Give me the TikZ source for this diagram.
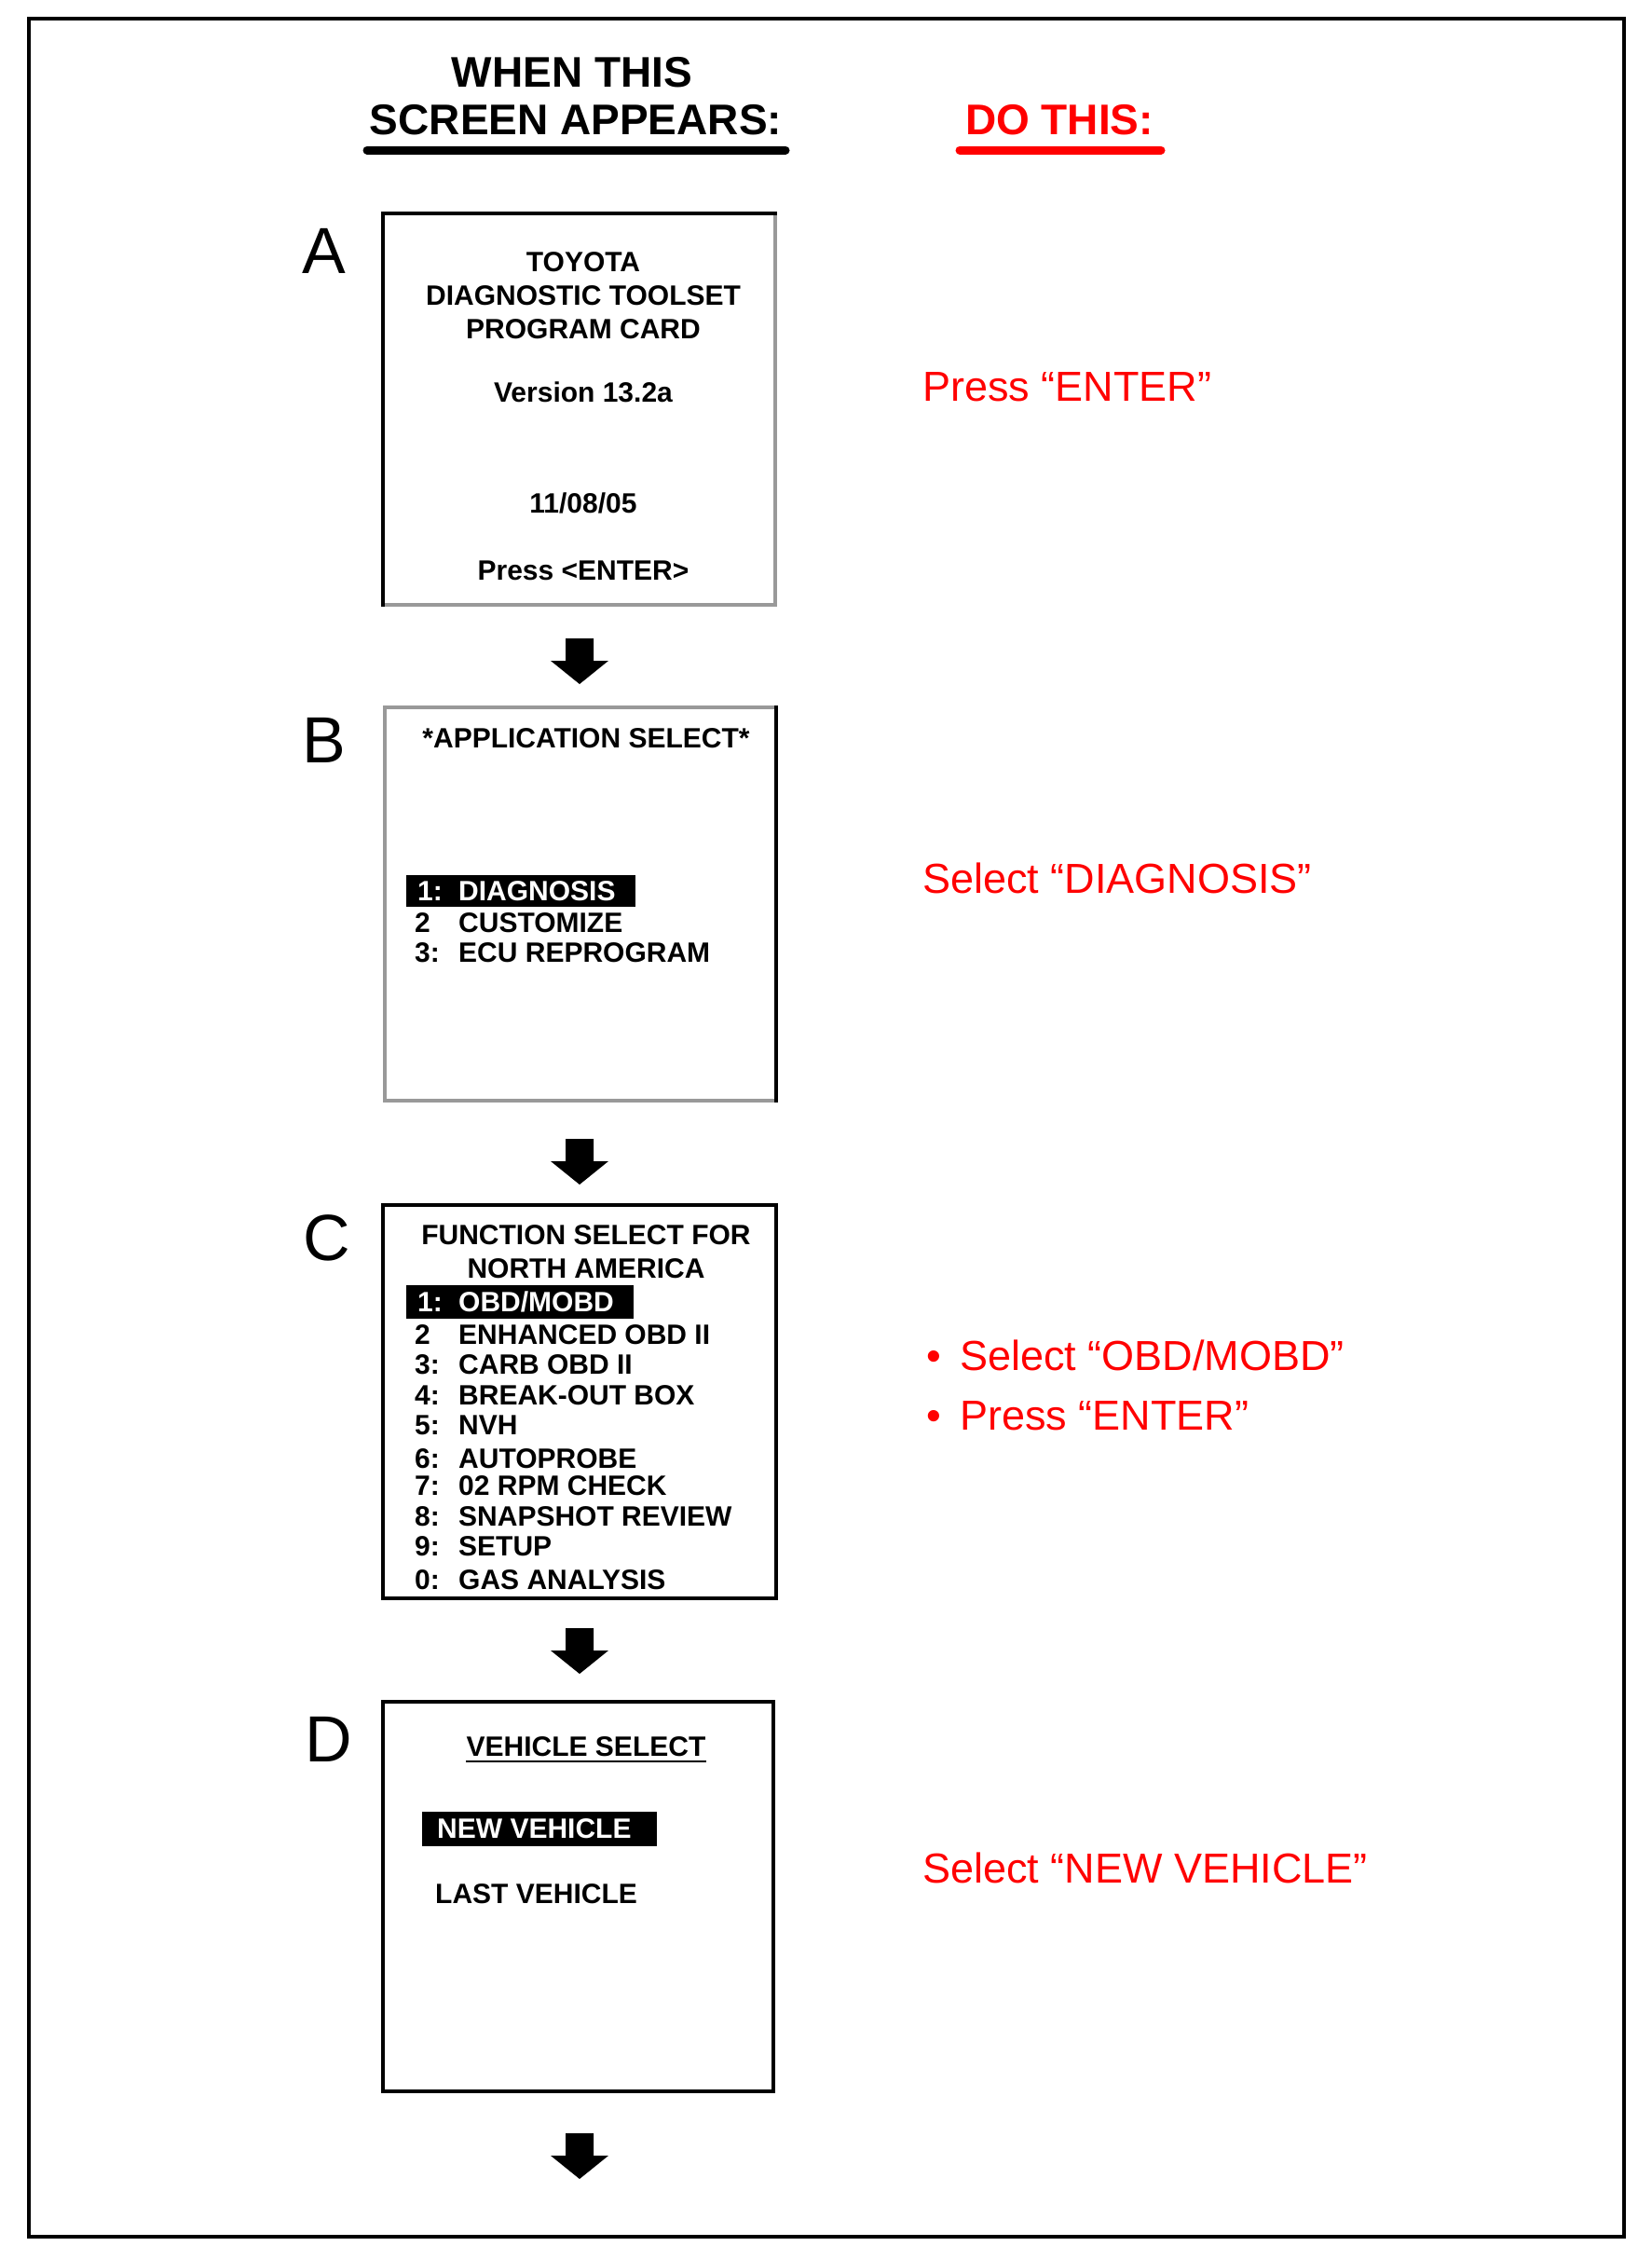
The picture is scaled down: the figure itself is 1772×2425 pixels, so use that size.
\documentclass[tikz,border=0pt]{standalone}
\usepackage{fontspec}
\setmainfont{Liberation Sans}
\begin{document}
\begin{tikzpicture}[x=1pt,y=-1pt,
  hdr/.style={font=\fontsize{46}{50}\selectfont\bfseries, inner sep=0pt, text height=33pt, text depth=0pt},
  lbl/.style={font=\fontsize{70}{70}\selectfont, inner sep=0pt, text height=50pt, text depth=0pt},
  scr/.style={font=\fontsize{30}{32}\selectfont\bfseries, inner sep=0pt, text height=21.5pt, text depth=0pt},
  scrl/.style={scr, anchor=west},
  inv/.style={scrl, text=white},
  act/.style={font=\fontsize{45}{48}\selectfont, text=red, inner sep=0pt, anchor=west, text height=32pt, text depth=0pt},
  screen/.style={inner sep=0pt, outer sep=0pt},
  bx/.style={line width=3.5pt, line cap=rect},
  bxg/.style={line width=3.5pt, line cap=rect, draw=black!40},
  uline/.style={line width=9pt, line cap=round},
  hlbar/.style={fill=black},
  barrow/.style={fill=black}
]
\fill[white] (0,0) rectangle (1772,2425);
\useasboundingbox (0,0) rectangle (1772,2425);
% outer frame
\draw[line width=4pt] (31,20) rectangle (1743,2400);

% header
\node[hdr] (h1) at (614,77) {WHEN THIS};
\node[hdr] (h2) at (618,128) {SCREEN APPEARS:};
\node[hdr, text=red] (h3) at (1137,128) {DO THIS:};
\draw[uline] (394,161) -- (843,161);
\draw[uline, red] (1030,161) -- (1246,161);

% step letters
\node[lbl] (la) at (348,268) {A};
\node[lbl] (lb) at (348,793) {B};
\node[lbl] (lc) at (351,1327) {C};
\node[lbl] (ld) at (353,1865) {D};

% screens
\node[screen, minimum width=421pt, minimum height=420pt] (boxA) at (621.5,439) {};
\node[screen, minimum width=420pt, minimum height=422pt] (boxB) at (623,970) {};
\node[screen, minimum width=422pt, minimum height=422pt] (boxC) at (622,1504) {};
\node[screen, minimum width=419pt, minimum height=418pt] (boxD) at (620.5,2035) {};

\draw[bxg] (boxA.north east) -- (boxA.south east) -- (boxA.south west);
\draw[bx] (boxA.south west) -- (boxA.north west) -- (boxA.north east);

\draw[bxg] (boxB.north east) -- (boxB.north west) -- (boxB.south west) -- (boxB.south east);
\draw[bx] (boxB.north east) -- (boxB.south east);

\draw[bx] (boxC.south west) rectangle (boxC.north east);
\draw[bx] (boxD.south west) rectangle (boxD.north east);

% screen A text
\node[scr] (a1) at (626,281) {TOYOTA};
\node[scr] (a2) at (626,317) {DIAGNOSTIC TOOLSET};
\node[scr] (a3) at (626,353) {PROGRAM CARD};
\node[scr] (a4) at (626,421) {Version 13.2a};
\node[scr] (a5) at (626,540) {11/08/05};
\node[scr] (a6) at (626,612) {Press <ENTER>};

% screen B text
\node[scr] (b0) at (629,792) {*APPLICATION SELECT*};
\fill[hlbar] (436,939) rectangle (682,973);
\node[inv] (b1n) at (448,956) {1:};
\node[inv] (b1) at (492,956) {DIAGNOSIS};
\node[scrl] (b2n) at (445,990) {2};
\node[scrl] (b2) at (492,990) {CUSTOMIZE};
\node[scrl] (b3n) at (445,1022) {3:};
\node[scrl] (b3) at (492,1022) {ECU REPROGRAM};

% screen C text
\node[scr] (c0) at (629,1325) {FUNCTION SELECT FOR};
\node[scr] (c00) at (629,1361) {NORTH AMERICA};
\fill[hlbar] (436,1379) rectangle (680,1415);
\node[inv] (c1n) at (448,1397) {1:};
\node[inv] (c1) at (492,1397) {OBD/MOBD};
\node[scrl] (c2n) at (445,1432) {2};
\node[scrl] (c2) at (492,1432) {ENHANCED OBD II};
\node[scrl] (c3n) at (445,1464) {3:};
\node[scrl] (c3) at (492,1464) {CARB OBD II};
\node[scrl] (c4n) at (445,1497) {4:};
\node[scrl] (c4) at (492,1497) {BREAK-OUT BOX};
\node[scrl] (c5n) at (445,1529) {5:};
\node[scrl] (c5) at (492,1529) {NVH};
\node[scrl] (c6n) at (445,1565) {6:};
\node[scrl] (c6) at (492,1565) {AUTOPROBE};
\node[scrl] (c7n) at (445,1594) {7:};
\node[scrl] (c7) at (492,1594) {02 RPM CHECK};
\node[scrl] (c8n) at (445,1627) {8:};
\node[scrl] (c8) at (492,1627) {SNAPSHOT REVIEW};
\node[scrl] (c9n) at (445,1659) {9:};
\node[scrl] (c9) at (492,1659) {SETUP};
\node[scrl] (c10n) at (445,1695) {0:};
\node[scrl] (c10) at (492,1695) {GAS ANALYSIS};

% screen D text
\node[scr] (d0) at (629,1874) {VEHICLE SELECT};
\draw[line width=2pt] ([yshift=-5pt]d0.south west) -- ([yshift=-5pt]d0.south east);
\fill[hlbar] (453,1944) rectangle (705,1981);
\node[inv] (d1) at (469,1962) {NEW VEHICLE};
\node[scrl] (d2) at (467,2032) {LAST VEHICLE};

% block arrows
\foreach \t in {685,1222,1747,2289} {
  \fill[barrow] (607,\t) -- (637,\t) -- (637,\t+24) -- (653,\t+24) -- (622,\t+49)
     -- (591,\t+24) -- (607,\t+24) -- cycle;
}

% actions
\node[act] (ra) at (990,414) {Press “ENTER”};
\node[act] (rb) at (990,942) {Select “DIAGNOSIS”};
\node[act] (rc1b) at (994,1454) {•};
\node[act] (rc1) at (1030,1454) {Select “OBD/MOBD”};
\node[act] (rc2b) at (994,1518) {•};
\node[act] (rc2) at (1030,1518) {Press “ENTER”};
\node[act] (rd) at (990,2004) {Select “NEW VEHICLE”};
\end{tikzpicture}
\end{document}
